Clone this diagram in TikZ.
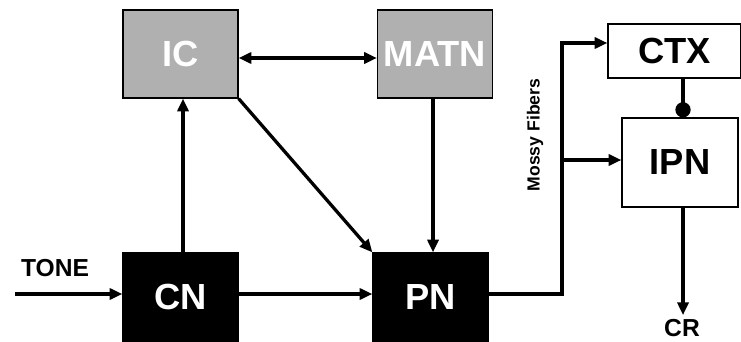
\documentclass[tikz,border=0pt]{standalone}
\usepackage{fontspec}
\setmainfont{Liberation Sans}
\usetikzlibrary{arrows.meta}
\definecolor{boxgray}{RGB}{176,176,176}
\tikzset{
  box/.style={draw=black, line width=1pt, inner sep=0pt, font=\fontsize{31}{31}\selectfont\bfseries},
  graybox/.style={box, fill=boxgray, text=white, minimum width=3.45cm, minimum height=2.64cm},
  blackbox/.style={box, fill=black, text=white, minimum width=3.45cm, minimum height=2.64cm},
  whitebox/.style={box, fill=white, text=black},
  tip/.tip={Triangle[length=11pt, width=9.5pt]},
  arr/.style={line width=2.8pt, -tip},
  label/.style={font=\fontsize{21}{21}\selectfont\bfseries}
}

\begin{document}
\begin{tikzpicture}[x=0.03cm, y=-0.03cm]
    \useasboundingbox (0,0) rectangle (741,341);
    \node[graybox] (IC) at (180.5, 54) {IC};
    \node[graybox] (MATN) at (435, 54) {MATN};
    \node[blackbox] (CN) at (180.5, 297) {CN};
    \node[blackbox] (PN) at (430.5, 297) {PN};
    \node[whitebox, minimum width=3.99cm, minimum height=1.62cm] (CTX) at (674.5, 51) {CTX};
    \node[whitebox, minimum width=3.48cm, minimum height=2.67cm] (IPN) at (680, 162.5) {IPN};
    \node[label] (TONE) at (55, 268) {TONE};
    \node[label] (CR) at (682, 328) {CR};
    \node[font=\fontsize{15}{15}\selectfont\bfseries, rotate=90] (MF) at (535, 135) {Mossy Fibers};
    \coordinate (in) at (15, 294);
    \coordinate (top) at (562, 43);
    \coordinate (mid) at (562, 160);
    % inputs
    \draw[arr] (in) -- (in -| CN.west);
    \draw[arr] (CN.north -| 183, 0) -- (IC.south -| 183, 0);
    \draw[arr, tip-tip] (IC.east |- 0, 58) -- (MATN.west |- 0, 58);
    \draw[arr] (IC.south east) -- (PN.north west);
    \draw[arr] (MATN.south -| 433, 0) -- (PN.north -| 433, 0);
    \draw[arr] (CN.east |- in) -- (PN.west |- in);
    % mossy fibers
    \draw[arr] (PN.east |- in) -| (top) -- (top -| CTX.west);
    \draw[arr] (mid) -- (mid -| IPN.west);
    \draw[line width=2.8pt, -{Circle[length=13pt]}] (CTX.south -| 683, 0) -- (IPN.north -| 683, 0);
    \draw[arr] (IPN.south -| 683, 0) -- (CR.north -| 683, 0);
  \end{tikzpicture}
\end{document}
